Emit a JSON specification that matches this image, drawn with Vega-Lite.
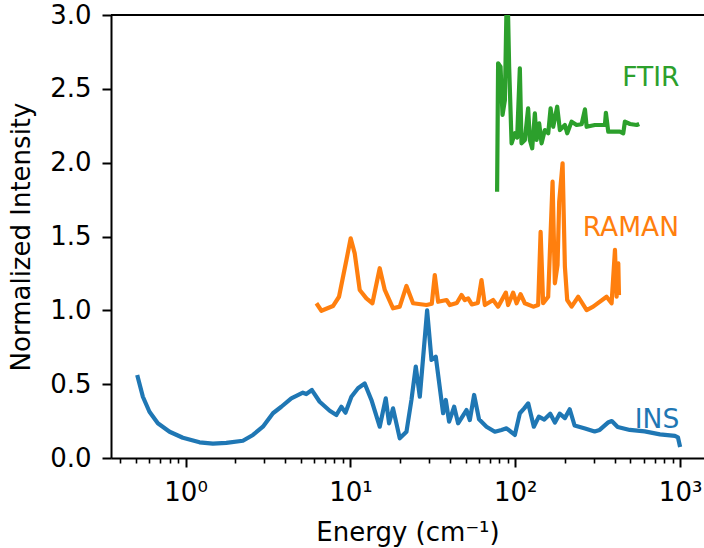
{
  "$schema": "https://vega.github.io/schema/vega-lite/v6.json",
  "autosize": {"type": "none"},
  "padding": {"left": 111, "top": 15, "right": 0, "bottom": 90},
  "width": 593,
  "height": 443,
  "background": "white",
  "config": {
    "view": {"stroke": null},
    "font": "DejaVu Sans",
    "axis": {"labelFont": "DejaVu Sans", "titleFont": "DejaVu Sans", "labelColor": "black", "titleColor": "black", "domainColor": "black", "tickColor": "black", "grid": false, "titleFontWeight": "normal"}
  },
  "datasets": {
    "spectra": [
      {"series": "INS", "energy": 0.509, "intensity": 0.562},
      {"series": "INS", "energy": 0.551, "intensity": 0.415},
      {"series": "INS", "energy": 0.604, "intensity": 0.313},
      {"series": "INS", "energy": 0.679, "intensity": 0.235},
      {"series": "INS", "energy": 0.80, "intensity": 0.178},
      {"series": "INS", "energy": 0.963, "intensity": 0.137},
      {"series": "INS", "energy": 1.216, "intensity": 0.106},
      {"series": "INS", "energy": 1.465, "intensity": 0.097},
      {"series": "INS", "energy": 1.767, "intensity": 0.102},
      {"series": "INS", "energy": 2.228, "intensity": 0.117},
      {"series": "INS", "energy": 2.563, "intensity": 0.156},
      {"series": "INS", "energy": 2.946, "intensity": 0.212},
      {"series": "INS", "energy": 3.39, "intensity": 0.303},
      {"series": "INS", "energy": 3.81, "intensity": 0.347},
      {"series": "INS", "energy": 4.38, "intensity": 0.404},
      {"series": "INS", "energy": 5.15, "intensity": 0.442},
      {"series": "INS", "energy": 5.40, "intensity": 0.433},
      {"series": "INS", "energy": 5.84, "intensity": 0.460},
      {"series": "INS", "energy": 6.51, "intensity": 0.381},
      {"series": "INS", "energy": 7.49, "intensity": 0.320},
      {"series": "INS", "energy": 8.22, "intensity": 0.291},
      {"series": "INS", "energy": 8.81, "intensity": 0.347},
      {"series": "INS", "energy": 9.33, "intensity": 0.307},
      {"series": "INS", "energy": 10.14, "intensity": 0.415},
      {"series": "INS", "energy": 11.12, "intensity": 0.472},
      {"series": "INS", "energy": 12.21, "intensity": 0.505},
      {"series": "INS", "energy": 13.41, "intensity": 0.393},
      {"series": "INS", "energy": 15.06, "intensity": 0.212},
      {"series": "INS", "energy": 16.38, "intensity": 0.404},
      {"series": "INS", "energy": 17.16, "intensity": 0.235},
      {"series": "INS", "energy": 18.14, "intensity": 0.336},
      {"series": "INS", "energy": 19.92, "intensity": 0.133},
      {"series": "INS", "energy": 21.88, "intensity": 0.178},
      {"series": "INS", "energy": 23.45, "intensity": 0.393},
      {"series": "INS", "energy": 24.92, "intensity": 0.619},
      {"series": "INS", "energy": 26.36, "intensity": 0.415},
      {"series": "INS", "energy": 29.2, "intensity": 1.0},
      {"series": "INS", "energy": 31.04, "intensity": 0.664},
      {"series": "INS", "energy": 32.96, "intensity": 0.686},
      {"series": "INS", "energy": 36.5, "intensity": 0.303},
      {"series": "INS", "energy": 37.9, "intensity": 0.393},
      {"series": "INS", "energy": 39.7, "intensity": 0.246},
      {"series": "INS", "energy": 42.6, "intensity": 0.347},
      {"series": "INS", "energy": 45.0, "intensity": 0.235},
      {"series": "INS", "energy": 50.6, "intensity": 0.325},
      {"series": "INS", "energy": 53.0, "intensity": 0.257},
      {"series": "INS", "energy": 56.3, "intensity": 0.427},
      {"series": "INS", "energy": 60.3, "intensity": 0.262},
      {"series": "INS", "energy": 66.9, "intensity": 0.212},
      {"series": "INS", "energy": 75.2, "intensity": 0.178},
      {"series": "INS", "energy": 82.5, "intensity": 0.190},
      {"series": "INS", "energy": 88.5, "intensity": 0.201},
      {"series": "INS", "energy": 99.4, "intensity": 0.156},
      {"series": "INS", "energy": 106.6, "intensity": 0.303},
      {"series": "INS", "energy": 113.3, "intensity": 0.336},
      {"series": "INS", "energy": 119.8, "intensity": 0.370},
      {"series": "INS", "energy": 129.6, "intensity": 0.212},
      {"series": "INS", "energy": 139.0, "intensity": 0.280},
      {"series": "INS", "energy": 150, "intensity": 0.26},
      {"series": "INS", "energy": 163, "intensity": 0.30},
      {"series": "INS", "energy": 174, "intensity": 0.24},
      {"series": "INS", "energy": 186, "intensity": 0.30},
      {"series": "INS", "energy": 200, "intensity": 0.27},
      {"series": "INS", "energy": 214, "intensity": 0.33},
      {"series": "INS", "energy": 229, "intensity": 0.22},
      {"series": "INS", "energy": 265, "intensity": 0.20},
      {"series": "INS", "energy": 303, "intensity": 0.18},
      {"series": "INS", "energy": 325, "intensity": 0.19},
      {"series": "INS", "energy": 365, "intensity": 0.24},
      {"series": "INS", "energy": 385, "intensity": 0.25},
      {"series": "INS", "energy": 418, "intensity": 0.21},
      {"series": "INS", "energy": 495, "intensity": 0.19},
      {"series": "INS", "energy": 610, "intensity": 0.18},
      {"series": "INS", "energy": 755, "intensity": 0.16},
      {"series": "INS", "energy": 930, "intensity": 0.15},
      {"series": "INS", "energy": 970, "intensity": 0.14},
      {"series": "INS", "energy": 1000, "intensity": 0.075},

      {"series": "RAMAN", "energy": 6.22, "intensity": 1.048},
      {"series": "RAMAN", "energy": 6.67, "intensity": 0.997},
      {"series": "RAMAN", "energy": 7.84, "intensity": 1.029},
      {"series": "RAMAN", "energy": 8.53, "intensity": 1.092},
      {"series": "RAMAN", "energy": 9.46, "intensity": 1.341},
      {"series": "RAMAN", "energy": 10.04, "intensity": 1.488},
      {"series": "RAMAN", "energy": 10.62, "intensity": 1.386},
      {"series": "RAMAN", "energy": 11.39, "intensity": 1.138},
      {"series": "RAMAN", "energy": 12.5, "intensity": 1.081},
      {"series": "RAMAN", "energy": 13.6, "intensity": 1.048},
      {"series": "RAMAN", "energy": 15.06, "intensity": 1.285},
      {"series": "RAMAN", "energy": 16.16, "intensity": 1.138},
      {"series": "RAMAN", "energy": 18.14, "intensity": 1.014},
      {"series": "RAMAN", "energy": 19.92, "intensity": 1.025},
      {"series": "RAMAN", "energy": 21.88, "intensity": 1.165},
      {"series": "RAMAN", "energy": 23.99, "intensity": 1.048},
      {"series": "RAMAN", "energy": 28.93, "intensity": 1.036},
      {"series": "RAMAN", "energy": 31.16, "intensity": 1.045},
      {"series": "RAMAN", "energy": 32.5, "intensity": 1.239},
      {"series": "RAMAN", "energy": 34.05, "intensity": 1.058},
      {"series": "RAMAN", "energy": 38.3, "intensity": 1.070},
      {"series": "RAMAN", "energy": 40.1, "intensity": 1.036},
      {"series": "RAMAN", "energy": 44.2, "intensity": 1.05},
      {"series": "RAMAN", "energy": 47.2, "intensity": 1.104},
      {"series": "RAMAN", "energy": 49.4, "intensity": 1.070},
      {"series": "RAMAN", "energy": 51.8, "intensity": 1.081},
      {"series": "RAMAN", "energy": 54.5, "intensity": 1.04},
      {"series": "RAMAN", "energy": 59.3, "intensity": 1.05},
      {"series": "RAMAN", "energy": 62.4, "intensity": 1.205},
      {"series": "RAMAN", "energy": 65.4, "intensity": 1.036},
      {"series": "RAMAN", "energy": 73.4, "intensity": 1.070},
      {"series": "RAMAN", "energy": 78.7, "intensity": 1.025},
      {"series": "RAMAN", "energy": 87.7, "intensity": 1.120},
      {"series": "RAMAN", "energy": 90.5, "intensity": 1.036},
      {"series": "RAMAN", "energy": 97.1, "intensity": 1.120},
      {"series": "RAMAN", "energy": 101.9, "intensity": 1.048},
      {"series": "RAMAN", "energy": 107.7, "intensity": 1.110},
      {"series": "RAMAN", "energy": 114.3, "intensity": 1.048},
      {"series": "RAMAN", "energy": 128.5, "intensity": 1.025},
      {"series": "RAMAN", "energy": 137.7, "intensity": 1.036},
      {"series": "RAMAN", "energy": 142.5, "intensity": 1.532},
      {"series": "RAMAN", "energy": 147.6, "intensity": 1.048},
      {"series": "RAMAN", "energy": 158.4, "intensity": 1.092},
      {"series": "RAMAN", "energy": 168.4, "intensity": 1.871},
      {"series": "RAMAN", "energy": 173.9, "intensity": 1.183},
      {"series": "RAMAN", "energy": 180.5, "intensity": 1.307},
      {"series": "RAMAN", "energy": 184.7, "intensity": 1.736},
      {"series": "RAMAN", "energy": 193.7, "intensity": 1.996},
      {"series": "RAMAN", "energy": 200, "intensity": 1.296},
      {"series": "RAMAN", "energy": 206.6, "intensity": 1.070},
      {"series": "RAMAN", "energy": 219.7, "intensity": 1.025},
      {"series": "RAMAN", "energy": 241, "intensity": 1.092},
      {"series": "RAMAN", "energy": 271, "intensity": 1.002},
      {"series": "RAMAN", "energy": 297, "intensity": 1.025},
      {"series": "RAMAN", "energy": 358, "intensity": 1.092},
      {"series": "RAMAN", "energy": 384, "intensity": 1.048},
      {"series": "RAMAN", "energy": 402.5, "intensity": 1.409},
      {"series": "RAMAN", "energy": 412, "intensity": 1.092},
      {"series": "RAMAN", "energy": 421.7, "intensity": 1.318},
      {"series": "RAMAN", "energy": 425.7, "intensity": 1.103},

      {"series": "FTIR", "energy": 77.6, "intensity": 1.803},
      {"series": "FTIR", "energy": 78.7, "intensity": 2.673},
      {"series": "FTIR", "energy": 81.4, "intensity": 2.65},
      {"series": "FTIR", "energy": 83.7, "intensity": 2.323},
      {"series": "FTIR", "energy": 86.5, "intensity": 2.424},
      {"series": "FTIR", "energy": 89.3, "intensity": 3.3},
      {"series": "FTIR", "energy": 91.8, "intensity": 2.65},
      {"series": "FTIR", "energy": 95.0, "intensity": 2.131},
      {"series": "FTIR", "energy": 99.5, "intensity": 2.2},
      {"series": "FTIR", "energy": 102.7, "intensity": 2.17},
      {"series": "FTIR", "energy": 106.6, "intensity": 2.639},
      {"series": "FTIR", "energy": 109.1, "intensity": 2.131},
      {"series": "FTIR", "energy": 114.3, "intensity": 2.154},
      {"series": "FTIR", "energy": 119.7, "intensity": 2.368},
      {"series": "FTIR", "energy": 122.6, "intensity": 2.154},
      {"series": "FTIR", "energy": 126.7, "intensity": 2.097},
      {"series": "FTIR", "energy": 131.5, "intensity": 2.334},
      {"series": "FTIR", "energy": 134.7, "intensity": 2.154},
      {"series": "FTIR", "energy": 139.7, "intensity": 2.266},
      {"series": "FTIR", "energy": 144.4, "intensity": 2.131},
      {"series": "FTIR", "energy": 151.2, "intensity": 2.221},
      {"series": "FTIR", "energy": 158.5, "intensity": 2.199},
      {"series": "FTIR", "energy": 163.8, "intensity": 2.368},
      {"series": "FTIR", "energy": 169.9, "intensity": 2.243},
      {"series": "FTIR", "energy": 179.6, "intensity": 2.379},
      {"series": "FTIR", "energy": 186.5, "intensity": 2.221},
      {"series": "FTIR", "energy": 200, "intensity": 2.255},
      {"series": "FTIR", "energy": 206.6, "intensity": 2.199},
      {"series": "FTIR", "energy": 219.6, "intensity": 2.278},
      {"series": "FTIR", "energy": 235.5, "intensity": 2.255},
      {"series": "FTIR", "energy": 252.7, "intensity": 2.26},
      {"series": "FTIR", "energy": 264.7, "intensity": 2.361},
      {"series": "FTIR", "energy": 271, "intensity": 2.243},
      {"series": "FTIR", "energy": 304, "intensity": 2.255},
      {"series": "FTIR", "energy": 350, "intensity": 2.255},
      {"series": "FTIR", "energy": 354.7, "intensity": 2.338},
      {"series": "FTIR", "energy": 366.5, "intensity": 2.21},
      {"series": "FTIR", "energy": 431.6, "intensity": 2.21},
      {"series": "FTIR", "energy": 452, "intensity": 2.199},
      {"series": "FTIR", "energy": 462.5, "intensity": 2.278},
      {"series": "FTIR", "energy": 496.5, "intensity": 2.262},
      {"series": "FTIR", "energy": 545, "intensity": 2.255},
      {"series": "FTIR", "energy": 565, "intensity": 2.262}
    ],
    "labels": [
      {"series": "FTIR", "energy": 665, "intensity": 2.573},
      {"series": "RAMAN", "energy": 503, "intensity": 1.557},
      {"series": "INS", "energy": 724, "intensity": 0.257}
    ]
  },
  "resolve": {"axis": {"x": "independent"}},
  "layer": [
    {
      "data": {"values": [{"top": 3}]},
      "mark": {"type": "rule", "color": "black", "strokeWidth": 2},
      "encoding": {"y": {"field": "top", "type": "quantitative"}}
    },
    {
      "data": {"name": "spectra"},
      "mark": {"type": "line", "strokeWidth": 4.2, "clip": true, "strokeJoin": "round"},
      "encoding": {
        "x": {
          "field": "energy", "type": "quantitative",
          "scale": {"type": "log", "domain": [0.353, 1396], "nice": false},
          "axis": {
            "orient": "bottom",
            "values": [1, 10, 100, 1000],
            "labelExpr": "datum.value == 1 ? '10⁰' : datum.value == 10 ? '10¹' : datum.value == 100 ? '10²' : '10³'",
            "labelFontSize": 26, "labelPadding": 12, "labelFlush": false,
            "tickSize": 9, "tickWidth": 2, "domainWidth": 2,
            "title": "Energy (cm⁻¹)", "titleFontSize": 26, "titlePadding": 14
          }
        },
        "y": {
          "field": "intensity", "type": "quantitative",
          "scale": {"domain": [0, 3], "nice": false, "zero": false},
          "axis": {
            "values": [0, 0.5, 1, 1.5, 2, 2.5, 3],
            "format": ".1f",
            "labelFontSize": 26, "labelPadding": 11,
            "tickSize": 9, "tickWidth": 2, "domainWidth": 2,
            "title": "Normalized Intensity", "titleFontSize": 26, "titlePadding": 15
          }
        },
        "color": {
          "field": "series", "type": "nominal",
          "scale": {"domain": ["INS", "RAMAN", "FTIR"], "range": ["#1f77b4", "#ff7f0e", "#2ca02c"]},
          "legend": null
        },
        "detail": {"field": "series"}
      }
    },
    {
      "data": {"name": "labels"},
      "mark": {"type": "text", "fontSize": 26.5, "font": "DejaVu Sans", "align": "center", "baseline": "middle"},
      "encoding": {
        "x": {
          "field": "energy", "type": "quantitative",
          "scale": {"type": "log", "domain": [0.353, 1396], "nice": false},
          "axis": {
            "orient": "bottom",
            "values": [0.4, 0.5, 0.6, 0.7, 0.8, 0.9, 2, 3, 4, 5, 6, 7, 8, 9, 20, 30, 40, 50, 60, 70, 80, 90, 200, 300, 400, 500, 600, 700, 800, 900],
            "labels": false, "domain": false, "title": null,
            "tickSize": 5, "tickWidth": 1.6
          }
        },
        "y": {"field": "intensity", "type": "quantitative"},
        "text": {"field": "series"},
        "color": {"field": "series", "type": "nominal", "legend": null}
      }
    }
  ]
}
